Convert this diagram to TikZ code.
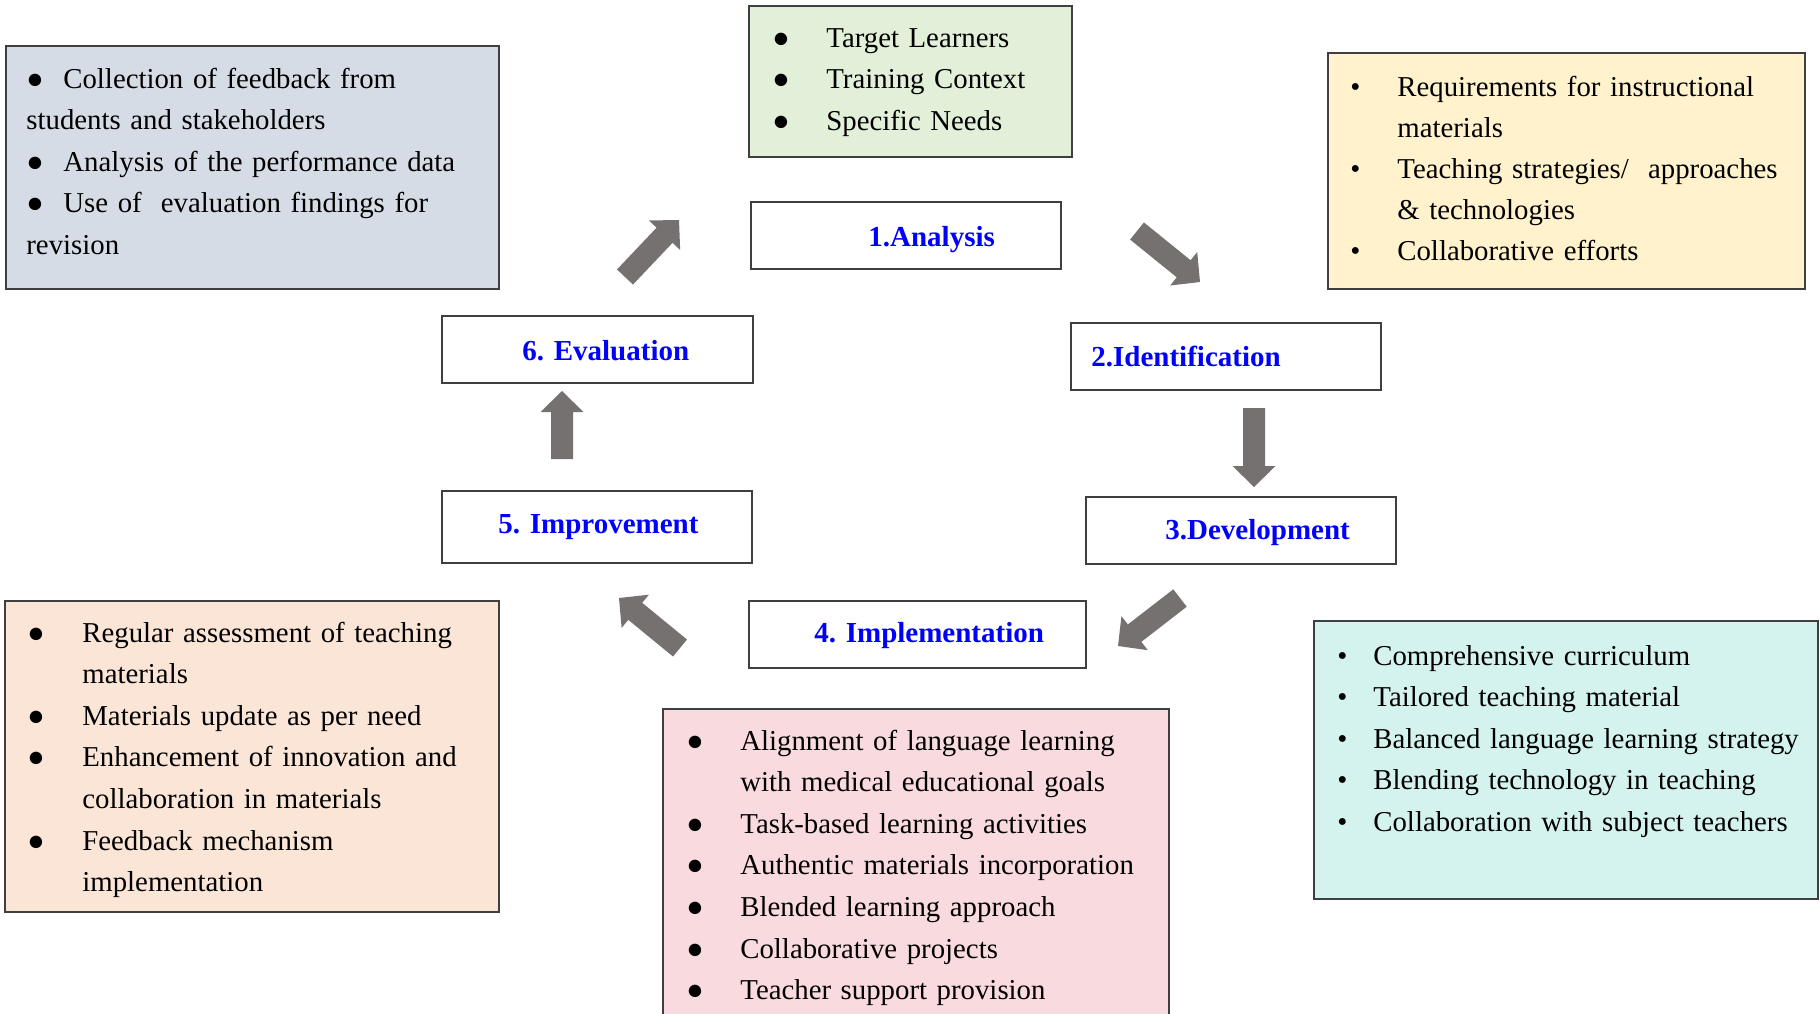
\documentclass[tikz,border=0pt]{standalone}
\usepackage{fontspec}
\setmainfont{Liberation Serif}
\usetikzlibrary{calc,fit}
\definecolor{arrowgray}{HTML}{767171}
\definecolor{boxline}{HTML}{3F3F3F}
\definecolor{fbfill}{HTML}{D6DCE5}
\definecolor{anfill}{HTML}{E2F0D9}
\definecolor{idfill}{HTML}{FFF2CC}
\definecolor{imfill}{HTML}{FBE5D6}
\definecolor{plfill}{HTML}{F9DADF}
\definecolor{dvfill}{HTML}{D4F2EE}
\newcommand\blockarrow[2]{%
  \coordinate (#1h) at ($(#2)!10.5pt!(#1)$);
  \fill[arrowgray] ($(#1)!5.5pt!90:(#2)$) -- ($(#1h)!5.5pt!-90:(#1)$) -- ($(#1h)!10.75pt!-90:(#1)$) -- (#2) -- ($(#1h)!10.75pt!90:(#1)$) -- ($(#1h)!5.5pt!90:(#1)$) -- ($(#1)!5.5pt!-90:(#2)$) -- cycle;
}
\tikzset{
  notebox/.style={draw=boxline, line width=0.75pt, inner sep=0pt},
  stagebox/.style={draw=boxline, line width=0.75pt, fill=white, inner sep=0pt},
  stagelabel/.style={anchor=base west, inner sep=0pt, text=blue, font=\fontsize{14.5pt}{17pt}\selectfont\bfseries},
  listtext/.style={anchor=base west, inner sep=0pt, align=left, text width=#1, font=\fontsize{14.4pt}{20.8pt}\selectfont},
}
\begin{document}
\begin{tikzpicture}[x=0.5pt,y=-0.5pt]
\fill[white] (0,0) rectangle (1820,1013);
\useasboundingbox (0,0) rectangle (1820,1013);

% note boxes
\node[notebox, fill=fbfill, fit={(6,46) (499,289)}] (fbbox) {};
\node[notebox, fill=anfill, fit={(749,6) (1072,157)}] (anbox) {};
\node[notebox, fill=idfill, fit={(1328,53) (1805,289)}] (idbox) {};
\node[notebox, fill=imfill, fit={(5,601) (499,912)}] (imbox) {};
\node[notebox, fill=plfill, fit={(663,709) (1169,1040)}] (plbox) {};
\node[notebox, fill=dvfill, fit={(1314,621) (1818,899)}] (dvbox) {};

% note texts
\node[listtext=235pt] (fbtext) at (26,88) {%
\makebox[18.5pt][l]{●}Collection of feedback from\\
students and stakeholders\\
\makebox[18.5pt][l]{●}Analysis of the performance data\\
\makebox[18.5pt][l]{●}Use of\ \ evaluation findings for\\
revision};

\node[listtext=140pt] (antext) at (772,47) {%
\makebox[27pt][l]{●}Target Learners\\
\makebox[27pt][l]{●}Training Context\\
\makebox[27pt][l]{●}Specific Needs};

\node[listtext=220pt, font=\fontsize{14.4pt}{20.6pt}\selectfont] (idtext) at (1350,96) {%
\makebox[23.5pt][l]{•}Requirements for instructional\\
\hspace*{23.5pt}materials\\
\makebox[23.5pt][l]{•}Teaching strategies/\ \ approaches\\
\hspace*{23.5pt}\& technologies\\
\makebox[23.5pt][l]{•}Collaborative efforts};

\node[listtext=235pt] (imtext) at (27,642) {%
\makebox[27.5pt][l]{●}Regular assessment of teaching\\
\hspace*{27.5pt}materials\\
\makebox[27.5pt][l]{●}Materials update as per need\\
\makebox[27.5pt][l]{●}Enhancement of innovation and\\
\hspace*{27.5pt}collaboration in materials\\
\makebox[27.5pt][l]{●}Feedback mechanism\\
\hspace*{27.5pt}implementation};

\node[listtext=240pt] (pltext) at (686,750) {%
\makebox[27pt][l]{●}Alignment of language learning\\
\hspace*{27pt}with medical educational goals\\
\makebox[27pt][l]{●}Task-based learning activities\\
\makebox[27pt][l]{●}Authentic materials incorporation\\
\makebox[27pt][l]{●}Blended learning approach\\
\makebox[27pt][l]{●}Collaborative projects\\
\makebox[27pt][l]{●}Teacher support provision};

\node[listtext=240pt] (dvtext) at (1337,665) {%
\makebox[18pt][l]{•}Comprehensive curriculum\\
\makebox[18pt][l]{•}Tailored teaching material\\
\makebox[18pt][l]{•}Balanced language learning strategy\\
\makebox[18pt][l]{•}Blending technology in teaching\\
\makebox[18pt][l]{•}Collaboration with subject teachers};

% stage boxes
\node[stagebox, fit={(751,202) (1061,269)}] (s1) {};
\node[stagebox, fit={(1071,323) (1381,390)}] (s2) {};
\node[stagebox, fit={(1086,497) (1396,564)}] (s3) {};
\node[stagebox, fit={(749,601) (1086,668)}] (s4) {};
\node[stagebox, fit={(442,491) (752,563)}] (s5) {};
\node[stagebox, fit={(442,316) (753,383)}] (s6) {};

\node[stagelabel] (l1) at (868,246) {1.Analysis};
\node[stagelabel] (l2) at (1091,366) {2.Identification};
\node[stagelabel] (l3) at (1165,539) {3.Development};
\node[stagelabel] (l4) at (814,642) {4. Implementation};
\node[stagelabel] (l5) at (498,533) {5. Improvement};
\node[stagelabel] (l6) at (522,360) {6. Evaluation};

% block arrows
\coordinate (a61) at (625,277); \coordinate (b61) at (679,220);
\coordinate (a12) at (1137,231); \coordinate (b12) at (1200,282);
\coordinate (a23) at (1254,408); \coordinate (b23) at (1254,487);
\coordinate (a34) at (1180,598); \coordinate (b34) at (1118,646);
\coordinate (a45) at (680,648); \coordinate (b45) at (619,598);
\coordinate (a56) at (562,459); \coordinate (b56) at (562,391);
\blockarrow{a61}{b61}
\blockarrow{a12}{b12}
\blockarrow{a23}{b23}
\blockarrow{a34}{b34}
\blockarrow{a45}{b45}
\blockarrow{a56}{b56}
\end{tikzpicture}
\end{document}
